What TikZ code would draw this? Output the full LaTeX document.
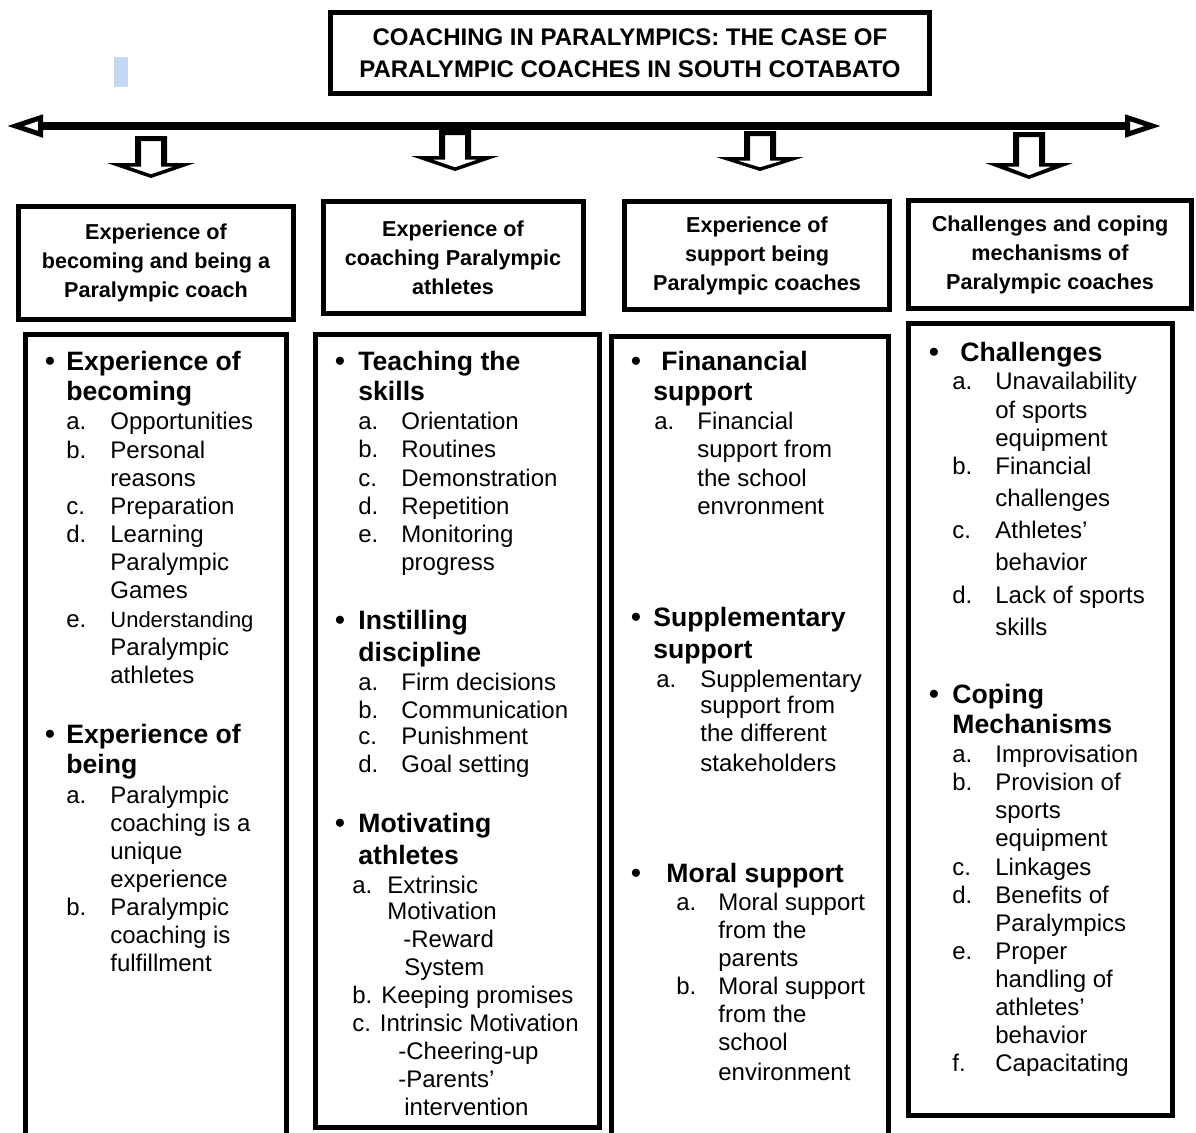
\documentclass[tikz,border=0pt]{standalone}
\usepackage{fontspec}
\setmainfont{Liberation Sans}
\usepackage{tikz}
\usetikzlibrary{arrows.meta,positioning}
\definecolor{markblue}{RGB}{197,217,245}

\begin{document}
\begin{tikzpicture}[
  x=0.5pt, y=-0.5pt,
  frame/.style={draw, line width=2.5pt, inner sep=0pt},
  title/.style={frame, font=\bfseries\fontsize{12}{16}\selectfont, align=center},
  head/.style={frame, font=\bfseries\fontsize{10.8}{14.5}\selectfont, align=center},
  topic/.style={anchor=base west, inner sep=0pt, font=\bfseries\fontsize{13.3}{16}\selectfont},
  item/.style={anchor=base west, inner sep=0pt, font=\fontsize{12}{14}\selectfont},
  dot/.style={anchor=base, inner sep=0pt, font=\bfseries\fontsize{14}{16}\selectfont},
  >={Triangle[open, length=18pt, width=11pt, line width=2.5pt]}
]
  \useasboundingbox (0,0) rectangle (1196,1132);
  \clip (0,0) rectangle (1196,1132);

  \fill[markblue] (114,57) rectangle (128,87);

  % Title and time line
  \node[title, minimum width=299.5pt, minimum height=40.5pt] (title) at (630,53)
    {COACHING IN PARALYMPICS: THE CASE OF\\PARALYMPIC COACHES IN SOUTH COTABATO};
  \coordinate (west) at (7,126);
  \coordinate (east) at (1161,126);
  \draw[<->, line width=4pt] (west) -- (east);

  % Hollow block arrows
  \foreach \cx/\t/\s/\p in {151/136/163/178, 455/130/156/171, 760/131/157/171, 1029/132/163/179}
    \fill[even odd rule]
      (\cx-16,\t) -- (\cx+16,\t) -- (\cx+16,\s) -- (\cx+44,\s) -- (\cx,\p) -- (\cx-44,\s) -- (\cx-16,\s) -- cycle
      (\cx-10,\t+5) -- (\cx+10,\t+5) -- (\cx+10,\s+3.5) -- (\cx+22.8,\s+3.5) -- (\cx,\p-3.7)
        -- (\cx-22.8,\s+3.5) -- (\cx-10,\s+3.5) -- cycle;

  % Theme boxes
  \node[head, minimum width=137.5pt, minimum height=56.5pt] (h1) at (156,263)
    {Experience of\\becoming and being a\\Paralympic coach};
  \node[head, minimum width=130pt, minimum height=56pt] (h2) at (453,257.5)
    {Experience of\\coaching Paralympic\\athletes};
  \node[head, minimum width=132.5pt, minimum height=54pt] (h3) at (757,255.5)
    {Experience of\\support being\\Paralympic coaches};
  \node[head, minimum width=141.5pt, minimum height=54pt] (h4) at (1050,254.5)
    {Challenges and coping\\mechanisms of\\Paralympic coaches};

  % Content boxes
  \node[frame, minimum width=130.5pt, minimum height=413pt] (b1) at (156,747.25) {};
  \node[frame, minimum width=142pt, minimum height=396.5pt] (b2) at (457,731) {};
  \node[frame, minimum width=138.75pt, minimum height=411.75pt] (b3) at (749.75,748.25) {};
  \node[frame, minimum width=132pt, minimum height=396pt] (b4) at (1040.5,719.5) {};

  % Column 1
  \foreach \y [count=\i] in {370,743} \node[dot] (d1-\i) at (50,\y) {•};
  \foreach \x/\y/\t [count=\i] in {66/370/Experience of, 66/400/becoming, 66/743/Experience of, 66/773/being}
    \node[topic] (t1-\i) at (\x,\y) {\t};
  \foreach \x/\y/\t [count=\i] in {66/429/a., 110/429/Opportunities, 66/458/b., 110/458/Personal,
      110/486/reasons, 66/514/c., 110/514/Preparation, 66/542/d., 110/542/Learning,
      110/570/Paralympic, 110/598/Games, 66/627/e., 110/655/Paralympic, 110/683/athletes,
      66/803/a., 110/803/Paralympic, 110/831/coaching is a, 110/859/unique, 110/887/experience,
      66/915/b., 110/915/Paralympic, 110/943/coaching is, 110/971/fulfillment}
    \node[item] (i1-\i) at (\x,\y) {\t};
  \node[item, font=\fontsize{11}{13}\selectfont] (i1-e) at (110,627) {Understanding};

  % Column 2
  \foreach \y [count=\i] in {370,629,832} \node[dot] (d2-\i) at (340,\y) {•};
  \foreach \x/\y/\t [count=\i] in {358/370/Teaching the, 358/400/skills, 358/629/Instilling,
      358/661/discipline, 358/832/Motivating, 358/864/athletes}
    \node[topic] (t2-\i) at (\x,\y) {\t};
  \foreach \x/\y/\t [count=\i] in {358/429/a., 401/429/Orientation, 358/457/b., 401/457/Routines,
      358/486/c., 401/486/Demonstration, 358/514/d., 401/514/Repetition, 358/542/e.,
      401/542/Monitoring, 401/570/progress, 358/690/a., 401/690/Firm decisions, 358/718/b.,
      401/718/Communication, 358/744/c., 401/744/Punishment, 358/772/d., 401/772/Goal setting,
      352/893/a., 387/893/Extrinsic, 387/919/Motivation, 403/947/-Reward, 404/975/System,
      352/1003/b. Keeping promises, 352/1031/c. Intrinsic Motivation, 398/1059/-Cheering-up,
      398/1087/-Parents’, 404/1115/intervention}
    \node[item] (i2-\i) at (\x,\y) {\t};

  % Column 3
  \foreach \y [count=\i] in {370,626,882} \node[dot] (d3-\i) at (636,\y) {•};
  \foreach \x/\y/\t [count=\i] in {661/370/Finanancial, 653/400/support, 653/626/Supplementary,
      653/658/support, 666/882/Moral support}
    \node[topic] (t3-\i) at (\x,\y) {\t};
  \foreach \x/\y/\t [count=\i] in {654/429/a., 697/429/Financial, 697/457/support from,
      697/486/the school, 697/514/envronment, 656/687/a., 700/687/Supplementary,
      700/713/support from, 700/741/the different, 700/771/stakeholders, 676/910/a.,
      718/910/Moral support, 718/938/from the, 718/966/parents, 676/994/b., 718/994/Moral support,
      718/1022/from the, 718/1050/school, 718/1080/environment}
    \node[item] (i3-\i) at (\x,\y) {\t};

  % Column 4
  \foreach \y [count=\i] in {361,703} \node[dot] (d4-\i) at (934,\y) {•};
  \foreach \x/\y/\t [count=\i] in {960/361/Challenges, 952/703/Coping, 952/733/Mechanisms}
    \node[topic] (t4-\i) at (\x,\y) {\t};
  \foreach \x/\y/\t [count=\i] in {952/389/a., 995/389/Unavailability, 995/418/of sports,
      995/446/equipment, 952/474/b., 995/474/Financial, 995/506/challenges, 952/538/c.,
      995/538/Athletes’, 995/570/behavior, 952/603/d., 995/603/Lack of sports, 995/635/skills,
      952/762/a., 995/762/Improvisation, 952/790/b., 995/790/Provision of, 995/818/sports,
      995/846/equipment, 952/875/c., 995/875/Linkages, 952/903/d., 995/903/Benefits of,
      995/931/Paralympics, 952/959/e., 995/959/Proper, 995/987/handling of, 995/1015/athletes’,
      995/1043/behavior, 952/1071/f., 995/1071/Capacitating}
    \node[item] (i4-\i) at (\x,\y) {\t};
\end{tikzpicture}
\end{document}
